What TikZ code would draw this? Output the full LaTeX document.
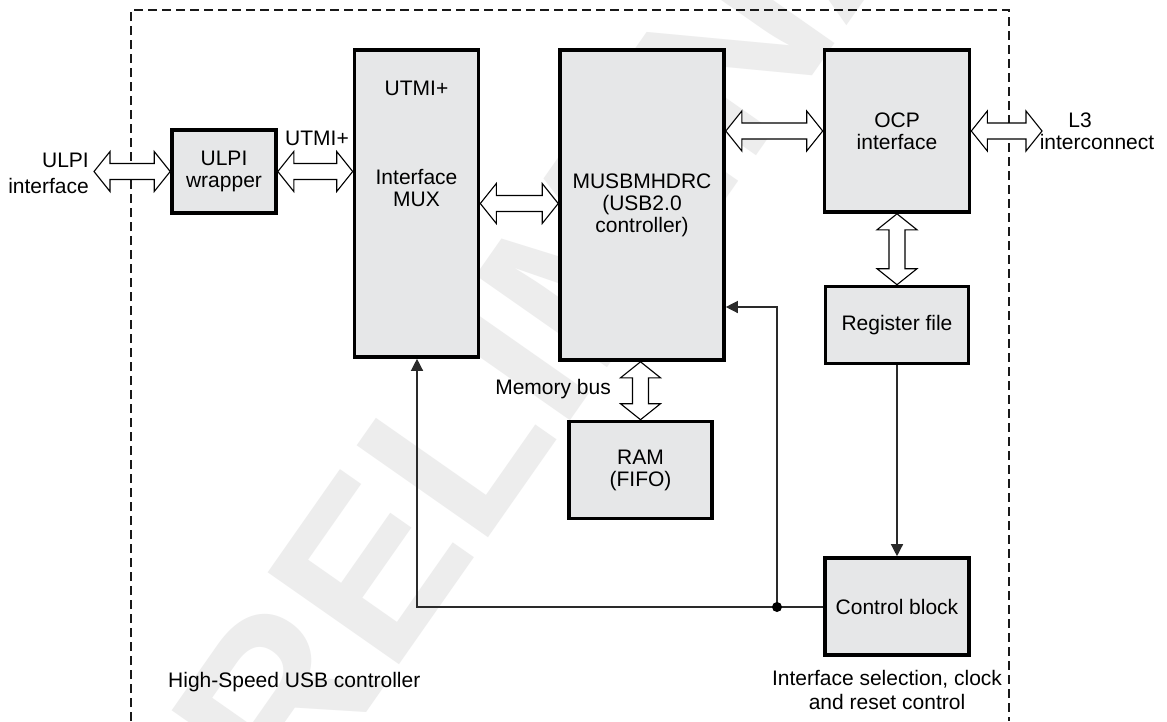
\documentclass[tikz,border=0pt]{standalone}
\usepackage{fontspec}
\setmainfont{Liberation Sans}
\usetikzlibrary{calc,arrows.meta}
\definecolor{boxfill}{HTML}{E6E7E8}
\definecolor{wmarkc}{HTML}{EDEDED}
\definecolor{linec}{HTML}{2A2A2A}
\newcommand\hbus[2]{%
  \path[bus] let \p1=#1, \p2=#2 in
  (\x1,\y1) -- (\x1+16pt,\y1+20pt) -- (\x1+16pt,\y1+8pt) -- (\x2-16pt,\y1+8pt) --
  (\x2-16pt,\y1+20pt) -- (\x2,\y1) -- (\x2-16pt,\y1-20pt) -- (\x2-16pt,\y1-8pt) --
  (\x1+16pt,\y1-8pt) -- (\x1+16pt,\y1-20pt) -- cycle;}
\newcommand\vbus[2]{%
  \path[bus] let \p1=#1, \p2=#2 in
  (\x1,\y1) -- (\x1+20pt,\y1-16pt) -- (\x1+8pt,\y1-16pt) -- (\x1+8pt,\y2+16pt) --
  (\x1+20pt,\y2+16pt) -- (\x1,\y2) -- (\x1-20pt,\y2+16pt) -- (\x1-8pt,\y2+16pt) --
  (\x1-8pt,\y1-16pt) -- (\x1-20pt,\y1-16pt) -- cycle;}
\begin{document}
\begin{tikzpicture}[x=1pt,y=-1pt,
  txt/.style={font=\fontsize{21}{22}\selectfont, align=center, inner sep=0pt},
  blk/.style={txt, draw=black, line width=3.6pt, fill=boxfill},
  bus/.style={draw=black, line width=1.1pt, fill=white, line join=miter},
  sig/.style={draw=linec, line width=1.3pt},
  sigarrow/.style={sig, -{Triangle[length=12pt,width=12pt]}},
  frame/.style={draw=black!90, line width=2.4pt, dash pattern=on 9pt off 5pt},
  wmark/.style={text=wmarkc, inner sep=0pt, font=\fontsize{233}{233}\selectfont\bfseries},
]
\useasboundingbox (0,0) rectangle (1167,721);
\fill[white] (0,0) rectangle (1167,721);

% watermark
\node[wmark, rotate=55, anchor=base west] (wm) at (205,943) {PRELIMINARY};

% dashed boundary
\coordinate (fbl) at (131,721);
\coordinate (ftl) at (131,10);
\coordinate (ftr) at (1009,10);
\coordinate (fbr) at (1009,721);
\draw[frame] (fbl) -- (ftl) -- (ftr) -- (fbr);

% blocks
\node[blk, minimum width=104pt, minimum height=83pt] (ulpi) at (224,171.5) {ULPI\\wrapper};
\node[blk, minimum width=124pt, minimum height=307pt] (mux) at (416.5,203.5) {};
\node[blk, minimum width=164pt, minimum height=310pt] (musb) at (642,205) {MUSBMHDRC\\(USB2.0\\controller)};
\node[blk, minimum width=145pt, minimum height=162pt] (ocp) at (897,131) {OCP\\interface};
\node[blk, minimum width=143pt, minimum height=77pt] (reg) at (897,325) {Register file};
\node[blk, minimum width=143pt, minimum height=97pt] (ram) at (640.5,470) {RAM\\(FIFO)};
\node[blk, minimum width=144pt, minimum height=97pt] (ctrl) at (897,606.5) {Control block};

% MUX texts
\node[txt] (muxa) at (416.5,88) {UTMI+};
\node[txt] (muxb) at (416.5,188) {Interface\\MUX};

% buses
\coordinate (ulpiext) at (94,171.5);
\coordinate (l3ext) at (1042,131);
\hbus{(ulpiext)}{(ulpi.west)}
\hbus{(ulpi.east)}{($(mux.west |- ulpi.east)$)}
\hbus{($(mux.east |- 0,203.5)$)}{($(musb.west |- 0,203.5)$)}
\hbus{($(musb.east |- ocp.west)$)}{(ocp.west)}
\hbus{(ocp.east)}{(l3ext)}
\vbus{(ocp.south)}{(reg.north)}
\vbus{($(ram.north |- musb.south)$)}{(ram.north)}

% control signals
\coordinate (j) at (777,607);
\coordinate (jl) at (417,607);
\coordinate (ju) at (777,307);
\draw[sigarrow] (reg.south) -- (ctrl.north);
\draw[sigarrow] (ctrl.west |- j) -- (jl) -- (jl |- mux.south);
\draw[sigarrow] (j) -- (ju) -- (musb.east |- ju);
\fill[black] (j) circle (5pt);

% labels
\node[txt, align=right, anchor=east] (ulpilbl) at (89,173) {ULPI\\[4pt]interface};
\node[txt] (utmilbl) at (317,138) {UTMI+};
\node[txt] (l3a) at (1080,120) {L3};
\node[txt] (l3b) at (1097,142) {interconnect};
\node[txt, anchor=east] (memlbl) at (611,389) {Memory bus};
\node[txt, anchor=west] (hslbl) at (168,682) {High-Speed USB controller};
\node[txt] (ctllbl) at (887,690) {Interface selection, clock\\[2pt]and reset control};
\end{tikzpicture}
\end{document}
